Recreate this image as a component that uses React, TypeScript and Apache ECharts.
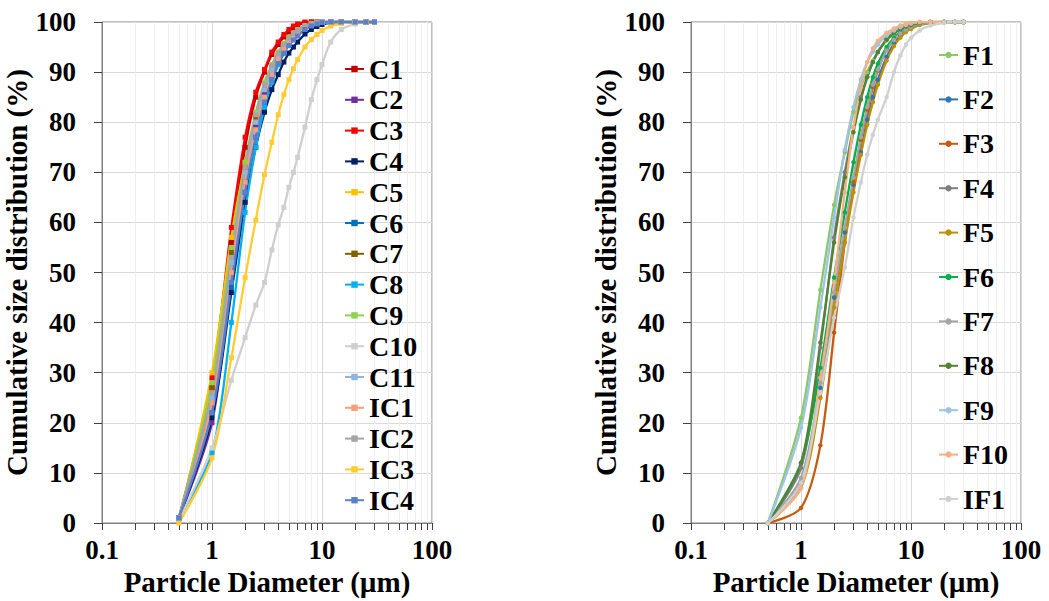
import React, { useEffect, useRef } from "react";
import * as echarts from "echarts";

// ---------- data ----------
const LEFT_SIZES = [0.5, 1, 1.5, 2, 2.5, 3, 3.5, 4, 4.5, 5, 5.5, 6, 7, 8, 9, 10, 12, 15, 20, 25, 30];
const C1 = [1, 27, 56, 75, 85, 90, 93.5, 95.5, 97, 98, 98.8, 99.3, 99.8, 100, 100, 100, 100, 100, 100, 100, 100];
const C2 = [1, 20, 50, 68, 79, 85.5, 89.5, 92.5, 94.5, 96, 97, 97.8, 98.9, 99.5, 99.8, 100, 100, 100, 100, 100, 100];
const C3 = [1, 29, 59, 77, 86, 90.5, 94, 96, 97.5, 98.5, 99.2, 99.6, 100, 100, 100, 100, 100, 100, 100, 100, 100];
const C4 = [1, 21, 46, 64, 75, 82, 86.5, 89.5, 92, 93.8, 95, 96, 97.6, 98.5, 99.1, 99.5, 99.9, 100, 100, 100, 100];
const C5 = [0.5, 30, 57, 72, 81, 87, 91, 93.5, 95.3, 96.6, 97.5, 98.2, 99.1, 99.6, 99.9, 100, 100, 100, 100, 100, 100];
const C6 = [1, 22, 47, 66, 77, 84, 88.5, 91.5, 93.8, 95.5, 96.6, 97.5, 98.7, 99.3, 99.7, 100, 100, 100, 100, 100, 100];
const C7 = [1, 27, 54, 71, 81, 87, 91, 93.5, 95.3, 96.6, 97.5, 98.2, 99.1, 99.6, 99.9, 100, 100, 100, 100, 100, 100];
const C8 = [1, 14, 40, 62, 75, 83, 88, 91.5, 93.8, 95.5, 96.7, 97.5, 98.7, 99.3, 99.7, 100, 100, 100, 100, 100, 100];
const C9 = [1, 28, 55, 72, 82, 88, 91.5, 94, 95.7, 97, 97.8, 98.5, 99.3, 99.7, 100, 100, 100, 100, 100, 100, 100];
const C10 = [0.5, 15, 28.5, 37, 43.5, 48, 54.5, 59.5, 63, 67, 70, 73, 79, 84.5, 88.5, 91.5, 96, 98.5, 99.6, 100, 100];
const C11 = [1, 25, 52, 70, 80, 86.5, 90.5, 93, 95, 96.4, 97.4, 98.1, 99, 99.5, 99.8, 100, 100, 100, 100, 100, 100];
const IC1 = [1, 24, 50, 68, 78.5, 85, 89.5, 92.5, 94.5, 96, 97, 97.8, 98.9, 99.5, 99.8, 100, 100, 100, 100, 100, 100];
const IC2 = [1, 26, 53, 71, 81.5, 87.5, 91.3, 93.8, 95.5, 96.8, 97.7, 98.3, 99.2, 99.6, 99.9, 100, 100, 100, 100, 100, 100];
const IC3 = [0, 13, 33, 49, 60.5, 69.5, 76, 81.5, 85.5, 88.5, 90.7, 92.5, 95, 96.5, 97.5, 98.3, 99.2, 99.7, 100, 100, 100];
const IC4 = [1, 22, 48, 66, 77, 84, 88.5, 91.7, 93.8, 95.3, 96.4, 97.2, 98.5, 99.2, 99.6, 99.9, 100, 100, 100, 100, 100];

const LEFT_NAMES = ["C1", "C2", "C3", "C4", "C5", "C6", "C7", "C8", "C9", "C10", "C11", "IC1", "IC2", "IC3", "IC4"];
const LEFT_VALUES = [C1, C2, C3, C4, C5, C6, C7, C8, C9, C10, C11, IC1, IC2, IC3, IC4];
const LEFT_COLORS = ["#c00000", "#7030a0", "#ff0000", "#002060", "#ffc000", "#0070c0", "#7f6000", "#00b0f0", "#92d050", "#d0cece", "#8eb4e3", "#f4a07a", "#a5a5a5", "#ffcc33", "#5b7fd0"];

const RIGHT_SIZES = [0.5, 1, 1.5, 2, 2.5, 3, 3.5, 4, 4.5, 5, 6, 7, 8, 9, 10, 12, 15, 20, 25, 30];
const F1 = [0, 21, 46.5, 63.5, 74, 82, 87, 90, 92.3, 94, 96.3, 97.6, 98.4, 99, 99.3, 99.7, 100, 100, 100, 100];
const F2 = [0, 8, 27, 45, 58, 67.5, 74, 80.5, 85, 88.5, 93, 95.7, 97.3, 98.2, 98.8, 99.5, 99.9, 100, 100, 100];
const F3 = [0, 3, 15.5, 38, 56, 68, 76.5, 82.5, 87, 90.3, 94.5, 96.7, 98, 98.8, 99.2, 99.7, 100, 100, 100, 100];
const F4 = [0, 11, 35, 57, 70, 79, 85, 89, 92, 94, 96.5, 97.8, 98.6, 99.1, 99.5, 99.8, 100, 100, 100, 100];
const F5 = [0, 7, 25, 43, 56, 66, 73.5, 79.5, 84, 87.5, 92.3, 95.2, 96.9, 98, 98.6, 99.4, 99.8, 100, 100, 100];
const F6 = [0, 12, 31, 49, 62, 72, 79.5, 85, 89, 91.7, 95, 96.8, 97.9, 98.6, 99, 99.6, 99.9, 100, 100, 100];
const F7 = [0, 9, 28, 46, 59, 69, 77, 83, 87.5, 90.5, 94.3, 96.4, 97.7, 98.5, 99, 99.6, 99.9, 100, 100, 100];
const F8 = [0, 12, 36, 56, 69, 78, 84.5, 89, 92, 94, 96.5, 97.8, 98.6, 99.1, 99.4, 99.8, 100, 100, 100, 100];
const F9 = [0, 19, 43, 61, 74.5, 83, 88.5, 92, 94, 95.5, 97.3, 98.3, 99, 99.4, 99.7, 100, 100, 100, 100, 100];
const F10 = [0, 7, 29, 48, 66, 79, 87, 92, 94.7, 96.2, 97.8, 98.7, 99.3, 99.6, 99.8, 100, 100, 100, 100, 100];
const IF1 = [0, 8, 26, 41, 51, 61, 68, 73.5, 77.5, 80.5, 85, 90, 93.3, 95.5, 96.8, 98.3, 99.3, 99.8, 100, 100];

const RIGHT_NAMES = ["F1", "F2", "F3", "F4", "F5", "F6", "F7", "F8", "F9", "F10", "IF1"];
const RIGHT_VALUES = [F1, F2, F3, F4, F5, F6, F7, F8, F9, F10, IF1];
const RIGHT_COLORS = ["#8bc866", "#2e75b6", "#c55a11", "#7f7f7f", "#bf9000", "#00b050", "#a5a5a5", "#548235", "#9dc3e6", "#f4b183", "#d0d0d0"];

const X_TICKS = [0.1, 0.2, 0.3, 0.4, 0.5, 0.6, 0.7, 0.8, 0.9, 1, 2, 3, 4, 5, 6, 7, 8, 9, 10, 20, 30, 40, 50, 60, 70, 80, 90, 100];
const X_GRID_COLORS = ["#d9d9d9", "#efefef", "#efefef", "#efefef", "#efefef", "#efefef", "#efefef", "#efefef", "#efefef"];

const X_TITLE = "Particle Diameter (µm)";
const Y_TITLE = "Cumulative size distribution (%)";

const FONT = "'Liberation Serif', 'Times New Roman', serif";

function buildSeries(names: string[], values: number[][], colors: string[], sizes: number[], idx: number, symbol: string) {
  return names.map((name, i) => ({
    type: "line",
    name,
    xAxisIndex: idx,
    yAxisIndex: idx,
    data: sizes.map((x, j) => [x, values[i][j]]),
    smooth: 0.3,
    symbol,
    symbolSize: symbol === "rect" ? 5 : 4.5,
    showSymbol: true,
    lineStyle: { width: 2.3, color: colors[i] },
    itemStyle: { color: colors[i] },
    emphasis: { disabled: true },
  }));
}

function xAxis(idx: number) {
  return {
    type: "log",
    logBase: 10,
    gridIndex: idx,
    min: 0.1,
    max: 100,
    name: X_TITLE,
    nameLocation: "middle",
    nameGap: 30,
    nameTextStyle: { fontSize: 29, fontWeight: "bold", color: "#000", fontFamily: FONT },
    axisLine: { show: true, onZero: false, lineStyle: { color: "#808080", width: 1 } },
    axisTick: { show: true, inside: false, length: 7, customValues: X_TICKS, lineStyle: { color: "#404040" } },
    axisLabel: { fontSize: 27, fontWeight: "bold", color: "#000", margin: 13, fontFamily: FONT },
    splitLine: { show: true, lineStyle: { color: X_GRID_COLORS, width: 1 } },
  };
}

function yAxis(idx: number) {
  return {
    type: "value",
    gridIndex: idx,
    min: 0,
    max: 100,
    interval: 10,
    name: Y_TITLE,
    nameLocation: "middle",
    nameGap: 56,
    nameRotate: 90,
    nameTextStyle: { fontSize: 29, fontWeight: "bold", color: "#000", fontFamily: FONT },
    axisLine: { show: true, lineStyle: { color: "#808080", width: 1 } },
    axisTick: { show: true, inside: false, length: 8, lineStyle: { color: "#404040" } },
    axisLabel: { fontSize: 27, fontWeight: "bold", color: "#000", margin: 26, fontFamily: FONT },
    splitLine: { show: true, lineStyle: { color: "#d9d9d9", width: 1 } },
  };
}

const legendText = { fontSize: 28, fontWeight: "bold", color: "#000", lineHeight: 28, fontFamily: FONT };

export default function App() {
  const ref = useRef<HTMLDivElement>(null);
  useEffect(() => {
    if (!ref.current) return;
    const chart = echarts.init(ref.current, null, { renderer: "svg" });
    chart.setOption({
      animation: false,
      backgroundColor: "#fff",
      textStyle: { fontFamily: FONT },
      grid: [
        { left: 102, top: 22, width: 330, height: 501, show: true, borderColor: "#808080", borderWidth: 1, containLabel: false, outerBoundsMode: "none" },
        { left: 691, top: 22, width: 330, height: 501, show: true, borderColor: "#808080", borderWidth: 1, containLabel: false, outerBoundsMode: "none" },
      ],
      xAxis: [xAxis(0), xAxis(1)],
      yAxis: [yAxis(0), yAxis(1)],
      legend: [
        {
          data: LEFT_NAMES,
          orient: "vertical",
          left: 344,
          top: 55,
          padding: 0,
          itemGap: 2.8,
          itemWidth: 19,
          itemHeight: 8,
          selectedMode: false,
          textStyle: legendText,
        },
        {
          data: RIGHT_NAMES,
          orient: "vertical",
          left: 938,
          top: 41,
          padding: 0,
          itemGap: 16.4,
          itemWidth: 19,
          itemHeight: 8,
          selectedMode: false,
          textStyle: legendText,
        },
      ],
      series: [
        ...buildSeries(LEFT_NAMES, LEFT_VALUES, LEFT_COLORS, LEFT_SIZES, 0, "rect"),
        ...buildSeries(RIGHT_NAMES, RIGHT_VALUES, RIGHT_COLORS, RIGHT_SIZES, 1, "circle"),
      ],
    });
    return () => chart.dispose();
  }, []);
  return <div ref={ref} style={{ position: "absolute", left: 0, top: 0, width: 1049, height: 601 }} />;
}
